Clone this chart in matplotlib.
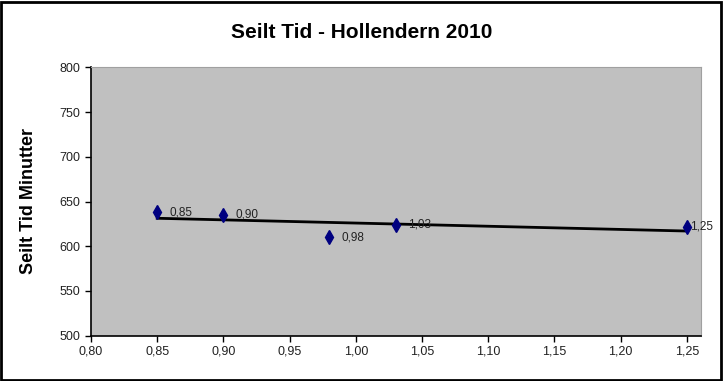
import numpy as np
import matplotlib
matplotlib.use("Agg")
from matplotlib import pyplot as plt
from matplotlib.patches import Rectangle

# data
x_vals = [0.85, 0.90, 0.98, 1.03, 1.25]
y_vals = [638, 635, 610, 624, 622]
point_labels = ["0,85", "0,90", "0,98", "1,03", "1,25"]
x_ticks = [0.80, 0.85, 0.90, 0.95, 1.00, 1.05, 1.10, 1.15, 1.20, 1.25]
y_ticks = [500, 550, 600, 650, 700, 750, 800]

plt.rcParams['font.family'] = ['Liberation Sans', 'DejaVu Sans']

fig = plt.figure(figsize=(7.23, 3.81), dpi=100)
ax = fig.add_axes([91 / 723, 1 - 335.5 / 381, 610 / 723, 268 / 381])
ax.set_facecolor('#c0c0c0')

# linear trend line
k, b = np.polyfit(x_vals, y_vals, 1)
xs = np.array([min(x_vals), max(x_vals)])
ax.plot(xs, k * xs + b, color='black', lw=2, zorder=2)

ax.plot(x_vals, y_vals, linestyle='none', marker='d', markersize=7,
        color='#000080', zorder=3)

for i, (x, y, t) in enumerate(zip(x_vals, y_vals, point_labels)):
    dx = 2 if i == len(x_vals) - 1 else 9
    ax.annotate(t, (x, y), xytext=(dx, 0), textcoords='offset points',
                ha='left', va='center', fontsize=8.5, color='#222222')

ax.set_xlim(0.80, 1.2607)
ax.set_ylim(500, 800)
ax.set_xticks(x_ticks)
ax.set_xticklabels([f"{v:.2f}".replace('.', ',') for v in x_ticks])
ax.set_yticks(y_ticks)
ax.tick_params(axis='both', labelsize=9, length=4, width=1, direction='out',
               color='black', labelcolor='#222222')

for s in ['top', 'right']:
    ax.spines[s].set_color('#a0a0a0')
    ax.spines[s].set_linewidth(0.8)
for s in ['left', 'bottom']:
    ax.spines[s].set_color('black')
    ax.spines[s].set_linewidth(1.2)

ax.set_ylabel('Seilt Tid Minutter', fontsize=13, fontweight='bold', labelpad=16)
fig.text(362 / 723, 1 - 33 / 381, 'Seilt Tid - Hollendern 2010', ha='center',
         va='center', fontsize=15, fontweight='bold')

# chart border
fig.patches.append(Rectangle((0.002, 0.003), 0.995, 0.993, transform=fig.transFigure,
                             fill=False, edgecolor='black', lw=2))

fig.savefig('out.png', dpi=100)
